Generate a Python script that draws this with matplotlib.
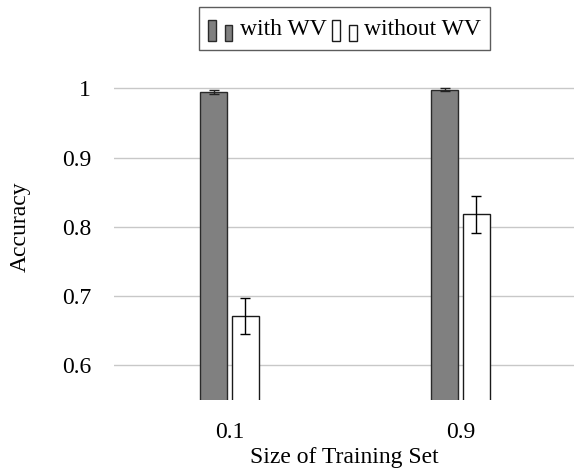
import matplotlib
matplotlib.use("Agg")
import matplotlib.pyplot as plt
from matplotlib.legend_handler import HandlerBase
from matplotlib.patches import Rectangle
import numpy as np

categories = ["0.1", "0.9"]
with_wv = [0.995, 0.998]
with_wv_err = [0.003, 0.002]
without_wv = [0.671, 0.818]
without_wv_err = [0.026, 0.027]
series_labels = ["with WV", "without WV"]
yticks = [0.6, 0.7, 0.8, 0.9, 1.0]
ytick_labels = ["0.6", "0.7", "0.8", "0.9", "1"]

plt.rcParams['font.family'] = ['Liberation Serif', 'DejaVu Serif']

W, H = 574, 470
fig = plt.figure(figsize=(W / 100, H / 100), dpi=100)
ax_left, ax_right, ax_top, ax_bottom = 114, 576, 53.7, 400
ax = fig.add_axes([ax_left / W, 1 - ax_bottom / H, (ax_right - ax_left) / W, (ax_bottom - ax_top) / H])

x = np.arange(len(categories))
unit_px = 231.5
bw = 27 / unit_px
gap = 5 / unit_px
off = (bw + gap) / 2

FS = 17
dark = "#808080"
ax.bar(x - off, with_wv, width=bw, color=dark, edgecolor="#2a2a2a", linewidth=1.0, zorder=3,
       yerr=with_wv_err, error_kw=dict(ecolor="#222222", elinewidth=1.0, capsize=3.8, capthick=1.0, zorder=4))
ax.bar(x + off, without_wv, width=bw, color="white", edgecolor="#1a1a1a", linewidth=1.0, zorder=3,
       yerr=without_wv_err, error_kw=dict(ecolor="black", elinewidth=1.0, capsize=3.8, capthick=1.0, zorder=4))

ax.set_xlim(-0.5, 1.5)
ax.set_ylim(0.55, 1.05)
ax.set_yticks(yticks)
ax.set_yticklabels(ytick_labels)
ax.set_xticks(x)
ax.set_xticklabels(categories)
ax.tick_params(axis='both', length=0, labelsize=FS)
ax.tick_params(axis='y', pad=16.5)
ax.tick_params(axis='x', pad=16)
ax.grid(axis='y', color="#c8c8c8", linewidth=1.0, zorder=0)
ax.set_axisbelow(True)
for s in ax.spines.values():
    s.set_visible(False)

fig.text(20 / W, 1 - 227 / H, "Accuracy", rotation=90, ha='center', va='center', fontsize=FS)
fig.text(344 / W, 1 - 458 / H, "Size of Training Set", ha='center', va='center', fontsize=FS)


class TwoBarHandler(HandlerBase):
    def __init__(self, face, edge):
        super().__init__()
        self.face = face
        self.edge = edge

    def create_artists(self, legend, orig_handle, xdescent, ydescent, width, height, fontsize, trans):
        bwid = width * 0.33
        y0 = -ydescent - height * 0.15
        r1 = Rectangle((-xdescent, y0), bwid, height, facecolor=self.face,
                       edgecolor=self.edge, linewidth=1.0, transform=trans)
        r2 = Rectangle((-xdescent + width * 0.70, y0), bwid, height * 0.75, facecolor=self.face,
                       edgecolor=self.edge, linewidth=1.0, transform=trans)
        return [r1, r2]


h1 = Rectangle((0, 0), 1, 1)
h2 = Rectangle((0, 0), 1, 1)
leg = fig.legend([h1, h2], series_labels, loc='center', bbox_to_anchor=(344.5 / W, 1 - 28.5 / H),
                 ncol=2, fontsize=FS, frameon=True, fancybox=False, edgecolor="#333333",
                 handlelength=1.0, handleheight=1.0, handletextpad=0.34, columnspacing=0.25,
                 borderpad=0.4, borderaxespad=0,
                 handler_map={h1: TwoBarHandler(dark, "#2a2a2a"), h2: TwoBarHandler("white", "#1a1a1a")})
leg.get_frame().set_linewidth(1.0)

fig.savefig("out.png", dpi=100)
